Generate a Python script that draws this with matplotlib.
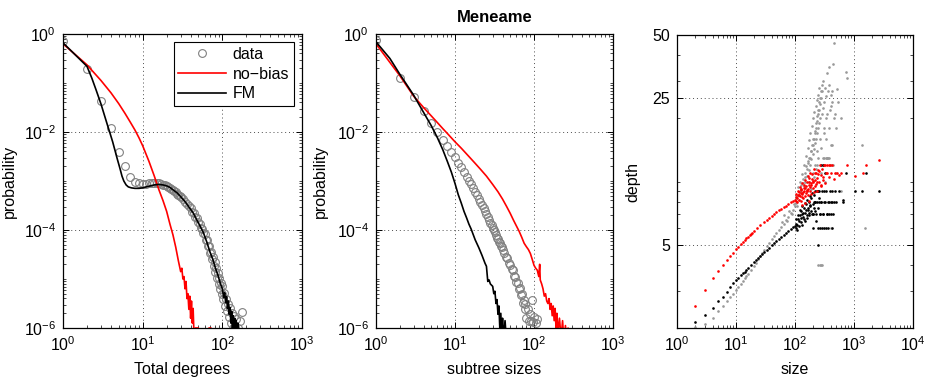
import numpy as np
import matplotlib
matplotlib.use('Agg')
import matplotlib.pyplot as plt
from matplotlib.ticker import LogLocator, NullFormatter, FixedLocator, FixedFormatter

plt.rcParams['font.family'] = ['Liberation Sans', 'DejaVu Sans']
plt.rcParams['mathtext.default'] = 'regular'
plt.rcParams['font.size'] = 11

# ---- panel 1: total degrees (log10 probability) ----
deg_data = list(range(1, 31)) + list(range(32, 101, 2)) + \
    [103, 106, 109, 112, 115, 118, 121, 125, 128, 132, 136, 140, 145, 150, 157, 165, 178]
deg_data_lp = [-0.15, -0.71, -1.36, -1.92, -2.40, -2.70, -2.91, -3.02, -3.05, -3.06,
               -3.06, -3.05, -3.05, -3.04, -3.05, -3.05, -3.06, -3.08, -3.09, -3.11,
               -3.13, -3.15, -3.17, -3.19, -3.21, -3.23, -3.26, -3.28, -3.31, -3.33,
               -3.37, -3.42, -3.47, -3.52, -3.56, -3.63, -3.66, -3.73, -3.76, -3.84,
               -3.87, -3.95, -3.97, -4.07, -4.08, -4.20, -4.20, -4.33, -4.32, -4.47,
               -4.44, -4.60, -4.55, -4.73, -4.66, -4.86, -4.78, -4.98, -4.88, -5.10,
               -4.98, -5.20, -5.08, -5.30, -5.15,
               -5.40, -5.28, -5.55, -5.40, -5.65, -5.50, -5.78, -5.60, -5.90, -5.70,
               -6.00, -5.75, -5.98, -5.82, -6.00, -5.85, -5.68]

deg_fm = [1, 2, 2.3, 2.6, 3, 3.3, 3.6, 3.9, 4.2, 4.5, 4.8, 5.2, 5.5, 5.8, 6.2, 6.6, 7.2, 8, 9, 10,
          11, 12.5, 14, 16, 18, 20, 22, 24, 27, 30, 34, 38, 43, 48, 53, 58, 64, 70, 76, 82,
          88, 94, 100, 104, 107, 110, 113, 116, 119, 122, 125, 128, 131, 134, 137, 140, 143,
          146, 149, 152, 156, 160]
deg_fm_lp = [-0.18, -0.66, -0.90, -1.14, -1.43, -1.65, -1.85, -2.03, -2.20, -2.38, -2.55, -2.75,
             -2.90, -3.00, -3.08, -3.12, -3.14, -3.15, -3.15, -3.14, -3.12, -3.10, -3.08, -3.07,
             -3.08, -3.10, -3.13, -3.18, -3.24, -3.32, -3.42, -3.53, -3.65, -3.80, -3.93, -4.06,
             -4.25, -4.45, -4.60, -4.78, -4.92, -5.08, -5.20, -5.38, -5.28, -5.48, -5.36, -5.60,
             -5.45, -5.72, -5.58, -5.90, -5.66, -6.05, -5.75, -6.20, -5.80, -6.30, -5.85, -6.30,
             -5.90, -6.40]

deg_nb = [1, 2, 3, 4, 5, 6, 7, 8, 9, 10, 12, 14, 16, 18, 20, 22, 24, 26, 28, 30, 31, 32, 33,
          34, 35, 36, 37, 38, 39, 40, 41, 42, 43, 44, 46, 50, 52, 66, 68, 72, 74]
deg_nb_lp = [-0.20, -0.63, -0.95, -1.20, -1.42, -1.62, -1.80, -1.96, -2.12, -2.28, -2.60, -2.90,
             -3.18, -3.40, -3.62, -3.88, -4.10, -4.35, -4.62, -4.85, -4.78, -5.00, -4.95, -5.20,
             -5.05, -5.40, -5.30, -5.62, -5.35, -5.80, -5.45, -5.90, -5.60, -6.10, -6.00, -6.00,
             -6.30, -6.30, -6.00, -6.00, -6.30]

# ---- panel 2: subtree sizes (log10 probability) ----
sub_data = list(range(1, 41)) + list(range(42, 81, 2)) + [83, 86, 89, 92, 95, 98, 101, 105, 110]
sub_data_lp = [-0.13, -0.90, -1.29, -1.58, -1.82, -2.00, -2.16, -2.29, -2.41, -2.52,
               -2.63, -2.72, -2.82, -2.91, -2.99, -3.07, -3.15, -3.22, -3.29, -3.36,
               -3.43, -3.49, -3.56, -3.62, -3.68, -3.74, -3.79, -3.85, -3.90, -3.96,
               -4.00, -4.05, -4.10, -4.16, -4.19, -4.25, -4.27, -4.33, -4.35, -4.41,
               -4.46, -4.55, -4.58, -4.68, -4.71, -4.80, -4.82, -4.93, -4.95, -5.07,
               -5.08, -5.20, -5.18, -5.33, -5.30, -5.48, -5.42, -5.62, -5.52, -5.80,
               -5.62, -5.85, -5.72, -5.85, -5.42, -5.88, -5.78, -5.90, -5.82]

sub_fm = [1, 1.5, 2, 3, 4, 5, 6, 7, 8, 9, 10, 11, 12, 13, 14, 15, 16, 18, 20, 22, 24, 25, 26,
          27, 28, 30, 31, 32, 33, 34, 35, 36, 37, 38, 39, 40, 41, 43, 45, 48]
sub_fm_lp = [-0.16, -0.50, -0.82, -1.25, -1.60, -1.87, -2.12, -2.36, -2.60, -2.82, -3.05, -3.28,
             -3.45, -3.62, -3.75, -3.88, -3.98, -4.20, -4.36, -4.52, -4.68, -4.74, -5.05, -5.02,
             -5.10, -5.15, -5.30, -5.25, -5.50, -5.42, -5.72, -5.55, -6.05, -5.70, -6.10, -5.80,
             -6.20, -5.85, -6.30, -6.20]

sub_nb = [1, 2, 3, 4, 5, 6, 7, 8, 10, 12, 15, 18, 21, 25, 30, 35, 40, 45, 50, 55, 60, 65, 70,
          75, 80, 85, 90, 95, 100, 105, 110, 115, 118, 120, 125, 130, 135, 140, 145, 150, 155,
          160, 165, 170, 175, 180, 185, 190, 195, 200, 210, 220, 230, 240, 250, 260, 270, 290]
sub_nb_lp = [-0.20, -0.85, -1.27, -1.50, -1.67, -1.81, -1.93, -2.03, -2.20, -2.33, -2.50, -2.64,
             -2.76, -2.90, -3.07, -3.22, -3.37, -3.52, -3.66, -3.80, -3.92, -4.03, -4.15, -4.27,
             -4.34, -4.40, -4.48, -4.60, -4.72, -4.78, -4.82, -4.95, -4.70, -5.02, -5.10, -5.20,
             -5.35, -5.30, -5.45, -5.50, -5.40, -5.62, -5.50, -5.75, -5.55, -5.85, -5.60, -6.00,
             -5.70, -6.10, -5.80, -6.20, -5.85, -6.30, -5.95, -6.30, -6.00, -6.30]

# ---- panel 3: depth vs size ----
data_size = [2, 3, 4, 5, 6, 7, 8, 9, 10, 11, 12, 13, 14, 15, 16, 18, 20, 22, 24, 26, 28, 30, 33,
             36, 40, 44, 48, 53, 58, 64, 70, 77, 85, 93, 100,
             105, 110, 115, 120, 125, 130, 135, 140, 145, 150, 155, 160, 165, 170, 175, 180,
             185, 190, 195, 200, 205, 210, 215, 220, 225, 230, 235, 240, 245, 250, 255, 260,
             265, 270, 278, 285, 290, 295, 300, 310, 320, 330, 340, 350, 360, 370, 380, 390,
             400, 410, 420, 440, 450, 459, 480, 500, 520, 540, 600, 718, 764, 380, 330, 300,
             280, 250, 230, 210, 190, 350, 400, 420, 1350, 1560, 250, 262, 275, 288, 400, 440,
             500, 600, 160, 175, 200, 215, 240, 310]
data_depth = [2.02, 2.10, 2.24, 2.41, 2.55, 2.68, 2.80, 2.92, 3.03, 3.14, 3.25, 3.35, 3.45,
              3.54, 3.63, 3.80, 3.96, 4.10, 4.25, 4.40, 4.55, 4.70, 4.90, 5.08, 5.30, 5.50,
              5.68, 5.88, 6.08, 6.30, 6.55, 6.80, 7.05, 7.35, 7.60,
              7.9, 8.5, 8.2, 9.0, 9.6, 8.8, 10.3, 9.5, 11.0, 10.0, 11.8, 10.6, 12.5, 11.3,
              13.0, 12.0, 14.0, 12.8, 15.0, 13.5, 16.0, 14.3, 17.0, 15.2, 18.0, 16.0, 19.5,
              17.0, 21.0, 18.0, 22.0, 19.0, 23.5, 20.0, 25.0, 21.0, 27.0, 22.5, 30.0, 24.0,
              28.0, 20.0, 25.5, 33.0, 27.0, 18.0, 29.0, 22.0, 26.0, 15.0, 24.0, 36.5, 20.0,
              46.0, 21.0, 18.0, 27.5, 24.0, 20.0, 33.2, 31.2, 35.0, 16.0, 12.0, 14.5, 13.0,
              11.5, 10.5, 9.2, 13.0, 12.0, 15.0, 15.0, 6.0, 4.0, 4.0, 4.0, 4.0, 6.0, 12.0,
              11.0, 9.0, 9.0, 10.0, 11.0, 12.0, 14.0, 17.0]
data_size_b = [60, 66, 72, 80, 88, 95, 102, 108, 113, 118, 123, 128, 133, 138, 143, 148, 153,
               158, 163, 168, 173, 178, 183, 188, 193, 198, 203, 208, 213, 218, 223, 228, 233,
               238, 243, 248, 253, 258, 268, 275, 282, 300, 315, 330, 345, 360, 380, 400, 420,
               350, 310, 270, 240, 320, 280]
data_depth_b = [6.4, 6.9, 6.5, 7.2, 7.0, 7.8, 8.3, 7.6, 9.4, 8.6, 10.0, 9.2, 10.8, 9.8, 12.0,
                10.5, 13.2, 11.5, 14.5, 12.2, 15.8, 13.0, 17.0, 14.0, 18.5, 15.0, 20.0, 16.0,
                21.5, 17.5, 23.0, 19.0, 24.5, 20.5, 26.0, 22.0, 28.0, 24.0, 25.0, 27.0, 29.0,
                13.0, 13.0, 13.0, 13.0, 13.0, 13.0, 23.0, 27.0, 21.0, 18.0, 16.0, 12.0, 10.0,
                11.0]

fm_size = [2, 3, 4, 5, 6, 7, 8, 9, 10, 11, 12, 13, 14, 15, 16, 18, 20, 22, 24, 26, 28, 30, 33,
           36, 40, 44, 48, 53, 58, 64, 70, 77, 85, 93, 100,
           105, 108, 112, 116, 120, 124, 128, 132, 136, 140, 145, 150, 155, 160, 165, 170,
           175, 180, 186, 192, 198, 205, 210, 215, 222, 230, 236, 244, 250, 255, 262, 270,
           280, 290, 300, 310, 320, 330, 345, 360, 375, 390, 410, 430, 450, 470, 500, 560,
           650, 650, 720, 1050, 1380, 1580, 2660, 280, 300, 320, 240, 260, 350, 420, 200, 220]
fm_depth = [2.13, 2.31, 2.49, 2.68, 2.82, 2.98, 3.14, 3.27, 3.38, 3.48, 3.57, 3.65, 3.72,
            3.80, 3.87, 4.00, 4.12, 4.22, 4.32, 4.42, 4.52, 4.60, 4.72, 4.83, 4.97, 5.08,
            5.20, 5.30, 5.42, 5.55, 5.68, 5.80, 5.95, 6.05, 6.15,
            6.3, 5.9, 6.6, 6.1, 6.9, 6.4, 7.2, 6.2, 6.8, 7.5, 6.5, 7.1, 7.8, 6.7, 7.3, 8.0,
            6.9, 7.6, 8.3, 7.0, 7.8, 6.0, 8.6, 7.2, 8.0, 6.5, 9.0, 7.5, 5.0, 8.3, 7.0, 6.0,
            8.0, 9.0, 7.0, 6.0, 8.0, 9.0, 7.0, 6.0, 8.0, 9.0, 7.0, 9.0, 8.0, 9.0, 8.0, 9.0,
            8.2, 8.0, 11.0, 9.0, 9.0, 11.0, 9.0, 12.0, 12.0, 11.0, 9.0, 9.0, 7.0, 8.0, 7.0, 8.0]
fm_size_b = [102, 106, 110, 114, 118, 122, 126, 130, 134, 138, 142, 147, 152, 157, 162, 168,
             173, 178, 183, 189, 195, 201, 208, 214, 220, 227, 234, 242, 250, 258, 266, 275,
             285, 295, 305, 315, 340, 360, 380, 400, 420, 440]
fm_depth_b = [6.0, 6.6, 6.2, 6.9, 6.5, 7.3, 6.7, 7.0, 7.6, 7.1, 6.6, 7.9, 7.3, 6.9, 8.2, 7.5,
              7.1, 8.5, 7.7, 7.2, 8.8, 7.0, 8.0, 7.5, 9.0, 7.0, 8.0, 6.0, 9.0, 8.0, 7.0, 8.0,
              6.0, 7.0, 8.0, 9.0, 6.0, 8.0, 7.0, 8.0, 6.0, 7.0]

nb_size = [2, 3, 4, 5, 6, 7, 8, 9, 10, 11, 12, 13, 14, 15, 16, 17, 18, 19, 20, 23, 26, 30, 33,
           36, 40, 44, 48, 53, 58, 64, 70, 77, 85, 93, 100,
           105, 108, 112, 115, 118, 122, 125, 128, 132, 135, 140, 143, 147, 150, 155, 158,
           162, 166, 170, 175, 180, 185, 190, 196, 200, 205, 212, 218, 225, 232, 240, 248,
           255, 265, 272, 280, 290, 300, 312, 325, 340, 355, 370, 390, 410, 430, 450, 480,
           520, 560, 600, 750, 1050, 1400, 1600, 2700, 130, 150, 170]
nb_depth = [2.56, 3.05, 3.46, 3.75, 4.00, 4.20, 4.40, 4.58, 4.75, 4.89, 5.02, 5.14, 5.25,
            5.35, 5.45, 5.54, 5.62, 5.70, 5.78, 6.00, 6.18, 6.40, 6.55, 6.70, 6.85, 7.00,
            7.15, 7.30, 7.42, 7.55, 7.68, 7.82, 7.95, 8.08, 8.20,
            8.4, 8.0, 8.6, 8.2, 8.9, 8.5, 8.1, 9.2, 8.7, 8.3, 9.0, 9.6, 8.5, 9.3, 8.8, 10.0,
            9.1, 8.6, 9.6, 10.4, 9.0, 9.8, 8.7, 10.8, 9.3, 10.1, 8.9, 11.0, 9.7, 10.4, 9.0,
            11.3, 10.0, 12.0, 9.5, 10.7, 11.5, 10.2, 12.0, 9.8, 11.0, 12.0, 10.5, 12.0, 11.0,
            12.0, 10.3, 11.0, 11.0, 10.7, 11.0, 12.0, 10.6, 11.0, 12.0, 12.6, 7.7, 7.9, 8.1]
nb_size_b = [102, 106, 110, 113, 117, 120, 124, 127, 131, 134, 138, 142, 146, 152, 157, 163,
             168, 173, 178, 183, 188, 194, 202, 208, 215, 222, 230, 238, 245, 260, 275, 295,
             320, 350, 380]
nb_depth_b = [8.1, 8.7, 8.3, 9.0, 8.6, 9.4, 8.8, 9.1, 8.4, 9.8, 8.9, 9.3, 10.2, 9.5, 9.0,
              10.6, 9.2, 10.0, 9.4, 11.0, 9.6, 10.3, 9.9, 11.5, 10.2, 9.5, 11.0, 10.0, 10.8,
              11.2, 9.6, 10.5, 12.0, 11.0, 12.0]

# ---- figure ----
fig = plt.figure(figsize=(9.3, 3.79), dpi=100)
ax1 = fig.add_axes([63 / 930, 1 - 328 / 379, 239 / 930, 294 / 379])
ax2 = fig.add_axes([376 / 930, 1 - 328 / 379, 237 / 930, 294 / 379])
ax3 = fig.add_axes([677 / 930, 1 - 328 / 379, 236 / 930, 293 / 379])

gray = '0.5'
fs = 11.5


def style(ax):
    ax.set_xscale('log')
    ax.set_yscale('log')
    ax.tick_params(which='both', direction='in', top=True, right=True, labelsize=fs)
    ax.tick_params(which='major', length=4, width=0.7, pad=5)
    ax.tick_params(which='minor', length=2, width=0.5)
    ax.grid(True, which='major', linestyle=(0, (1, 3)), color='0.3', linewidth=0.7)
    for s in ax.spines.values():
        s.set_linewidth(0.9)


for ax, xd, yd, xf, yf, xn, yn, xl in [
        (ax1, deg_data, deg_data_lp, deg_fm, deg_fm_lp, deg_nb, deg_nb_lp, 'Total degrees'),
        (ax2, sub_data, sub_data_lp, sub_fm, sub_fm_lp, sub_nb, sub_nb_lp, 'subtree sizes')]:
    style(ax)
    ax.plot(xd, 10.0 ** np.array(yd), 'o', mfc='none', mec=gray, ms=5.6, mew=0.8,
            label='data')
    ax.plot(xn, 10.0 ** np.array(yn), '-', color='red', lw=1.2, label='no\u2212bias')
    ax.plot(xf, 10.0 ** np.array(yf), '-', color='black', lw=1.2, label='FM')
    ax.set_xlim(1, 1000)
    ax.set_ylim(1e-6, 1)
    ax.yaxis.set_major_locator(FixedLocator([1e-6, 1e-4, 1e-2, 1]))
    ax.yaxis.set_minor_locator(LogLocator(base=10, subs=np.arange(1, 10), numticks=20))
    ax.yaxis.set_minor_formatter(NullFormatter())
    ax.xaxis.set_major_locator(FixedLocator([1, 10, 100, 1000]))
    ax.xaxis.set_minor_locator(LogLocator(base=10, subs=np.arange(2, 10), numticks=20))
    ax.xaxis.set_minor_formatter(NullFormatter())
    ax.set_ylabel('probability', fontsize=fs)
    ax.set_xlabel(xl, fontsize=fs)
    ax.xaxis.set_label_coords(0.5, -0.115)

ax1.yaxis.set_label_coords(-0.192, 0.5)
ax2.yaxis.set_label_coords(-0.203, 0.5)

leg = ax1.legend(loc='upper right', handlelength=3.0, handletextpad=0.4, labelspacing=0.3,
                 fancybox=False, edgecolor='black', framealpha=1, borderaxespad=0.5,
                 fontsize=fs, borderpad=0.3)
leg.get_frame().set_linewidth(0.8)

ax2.set_title('Meneame', fontweight='bold', fontsize=12, pad=9)

style(ax3)
ax3.plot(data_size + data_size_b, data_depth + data_depth_b, 'o', ms=1.9, mew=0, color='0.6')
ax3.plot(fm_size + fm_size_b, fm_depth + fm_depth_b, 'o', ms=1.9, mew=0, color='black')
ax3.plot(nb_size + nb_size_b, nb_depth + nb_depth_b, 'o', ms=1.9, mew=0, color='red')
ax3.set_xlim(1, 1e4)
ax3.set_ylim(2, 50)
ax3.xaxis.set_major_locator(FixedLocator([1, 10, 100, 1000, 10000]))
ax3.xaxis.set_minor_locator(LogLocator(base=10, subs=np.arange(2, 10), numticks=20))
ax3.xaxis.set_minor_formatter(NullFormatter())
ax3.yaxis.set_major_locator(FixedLocator([5, 25, 50]))
ax3.yaxis.set_major_formatter(FixedFormatter(['5', '25', '50']))
ax3.yaxis.set_minor_locator(LogLocator(base=10, subs=np.arange(1, 10), numticks=20))
ax3.yaxis.set_minor_formatter(NullFormatter())
ax3.set_ylabel('depth', fontsize=fs)
ax3.set_xlabel('size', fontsize=fs)
ax3.yaxis.set_label_coords(-0.157, 0.5)
ax3.xaxis.set_label_coords(0.5, -0.115)

fig.savefig('out.png', dpi=100)
